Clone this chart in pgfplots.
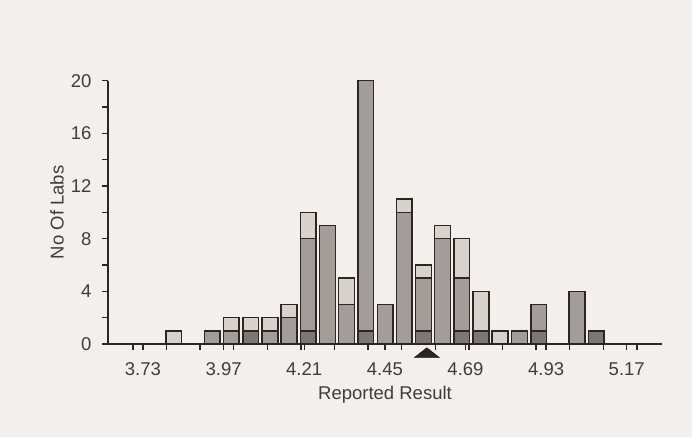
\documentclass[border=0pt]{standalone}
\usepackage{pgfplots}
\pgfplotsset{compat=1.18}
\usepackage{fontspec}
\setmainfont{Liberation Sans}
\definecolor{bgc}{HTML}{F3EFEC}
\definecolor{lightbar}{HTML}{D8D2CD}
\definecolor{midbar}{HTML}{A39D99}
\definecolor{darkbar}{HTML}{7D7672}
\definecolor{ink}{HTML}{2A2624}
\begin{document}
\begin{tikzpicture}[x=1pt,y=1pt]
\fill[bgc] (0,0) rectangle (692,437);
\begin{axis}[
  at={(108pt,93pt)}, anchor=south west,
  scale only axis, width=554pt, height=263.3pt,
  xmin=3.626, xmax=5.275, ymin=0, ymax=20,
  axis lines*=left,
  axis line style={ink, line width=1.6pt},
  every tick/.style={ink, line width=1.4pt},
  tick align=outside,
  major tick length=6pt, minor tick length=6pt,
  xtick={3.73,3.97,4.21,4.45,4.69,4.93,5.17},
  xticklabels={3.73,3.97,4.21,4.45,4.69,4.93,5.17},
  minor xtick={3.7,3.8,3.9,4.0,4.1,4.2,4.3,4.4,4.5,4.6,4.7,4.8,4.9,5.0,5.1,5.2},
  ytick={0,4,8,12,16,20},
  yticklabels={0,4,8,12,16,20},
  minor ytick={2,6,10,14,18},
  font=\fontsize{18.5}{22}\selectfont,
  tick label style={text=ink!90},
  xticklabel style={yshift=-9pt},
  yticklabel style={xshift=-7pt},
  xlabel={Reported Result},
  ylabel={No Of Labs},
  every axis x label/.style={at={(axis description cs:0.5,0)}, anchor=center, yshift=-51pt, text=ink!90},
  every axis y label/.style={at={(axis description cs:0,0.5)}, anchor=center, xshift=-51pt, rotate=90, text=ink!90},
  clip=false,
]
% totals (light layer)
\addplot[ybar, bar width=0.047, bar shift=0pt, fill=lightbar, draw=ink, line width=1.5pt] coordinates {
 (3.822,1) (3.936,1) (3.993,2) (4.051,2) (4.108,2) (4.165,3) (4.222,10) (4.279,9)
 (4.336,5) (4.393,20) (4.451,3) (4.508,11) (4.565,6) (4.622,9) (4.679,8) (4.736,4)
 (4.793,1) (4.851,1) (4.908,3) (5.022,4) (5.079,1)};
% dark + medium
\addplot[ybar, bar width=0.047, bar shift=0pt, fill=midbar, draw=ink, line width=1.5pt] coordinates {
 (3.936,1) (3.993,1) (4.051,1) (4.108,1) (4.165,2) (4.222,8) (4.279,9)
 (4.336,3) (4.393,20) (4.451,3) (4.508,10) (4.565,5) (4.622,8) (4.679,5) (4.736,1)
 (4.851,1) (4.908,3) (5.022,4) (5.079,1)};
% dark
\addplot[ybar, bar width=0.047, bar shift=0pt, fill=darkbar, draw=ink, line width=1.5pt] coordinates {
 (4.051,1) (4.222,1) (4.393,1) (4.565,1) (4.679,1) (4.736,1) (4.908,1) (5.079,1)};
% assigned value marker
\addplot[only marks, mark=triangle*, mark size=14.4pt, mark options={yscale=0.45, fill=ink, draw=none}] coordinates {(4.575,-0.78)};
\end{axis}
\end{tikzpicture}
\end{document}
